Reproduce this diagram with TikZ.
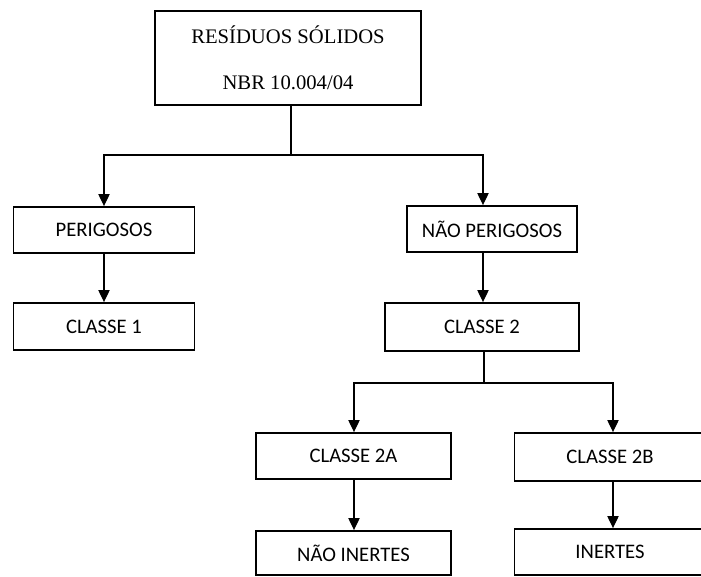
\documentclass[tikz,border=0pt]{standalone}
\usepackage{fontspec}
\setmainfont{Liberation Serif}
\newfontfamily\calib{Carlito}
\usepackage{tikz}
\usetikzlibrary{arrows.meta}

\begin{document}
\begin{tikzpicture}[x=0.75pt,y=-0.75pt,
        caixa/.style = {draw,line width=1.4pt,fill=white,inner sep=0pt,font=\calib\fontsize{15.5}{18}\selectfont},
        seta/.style = {line width=0.8pt,-{Triangle[length=9pt,width=8.5pt]}},
        linha/.style = {line width=0.8pt}]
        \clip (0,0) rectangle (701,577);

        \node[caixa,minimum width=266*0.75pt,minimum height=94*0.75pt,align=center,
              font=\fontsize{15.5}{34.5}\selectfont] (res) at (288,58) {RESÍDUOS SÓLIDOS\\NBR 10.004/04};

        \node[caixa,minimum width=181*0.75pt,minimum height=46*0.75pt] (peri) at (104,230) {PERIGOSOS};
        \node[caixa,minimum width=170*0.75pt,minimum height=46*0.75pt] (nperi) at (492,229) {NÃO PERIGOSOS};
        \node[caixa,minimum width=181*0.75pt,minimum height=47*0.75pt] (c1) at (104,326.5) {CLASSE 1};
        \node[caixa,minimum width=194*0.75pt,minimum height=48*0.75pt] (c2) at (482,327) {CLASSE 2};
        \node[caixa,minimum width=195*0.75pt,minimum height=46*0.75pt] (c2a) at (353.5,456) {CLASSE 2A};
        \node[caixa,minimum width=191*0.75pt,minimum height=48*0.75pt] (c2b) at (610,457) {CLASSE 2B};
        \node[caixa,minimum width=195*0.75pt,minimum height=44*0.75pt] (ni) at (353.5,553) {NÃO INERTES};
        \node[caixa,minimum width=191*0.75pt,minimum height=46*0.75pt] (ine) at (610,552) {INERTES};

        \coordinate (j1) at (291,155);
        \coordinate (j1e) at (104,155);
        \coordinate (j1d) at (483,155);
        \coordinate (j2) at (484,383);
        \coordinate (j2e) at (354,383);
        \coordinate (j2d) at (613,383);

        \draw[linha] (res.south -| j1) -- (j1);
        \draw[seta]  (j1) -- (j1e) -- (peri.north);
        \draw[seta]  (j1) -- (j1d) -- (j1d |- nperi.north);
        \draw[seta]  (peri) -- (c1);
        \draw[seta]  (j1d |- nperi.south) -- (j1d |- c2.north);
        \draw[linha] (j2 |- c2.south) -- (j2);
        \draw[seta]  (j2) -- (j2e) -- (j2e |- c2a.north);
        \draw[seta]  (j2) -- (j2d) -- (j2d |- c2b.north);
        \draw[seta]  (j2e |- c2a.south) -- (j2e |- ni.north);
        \draw[seta]  (j2d |- c2b.south) -- (j2d |- ine.north);
    \end{tikzpicture}
\end{document}
